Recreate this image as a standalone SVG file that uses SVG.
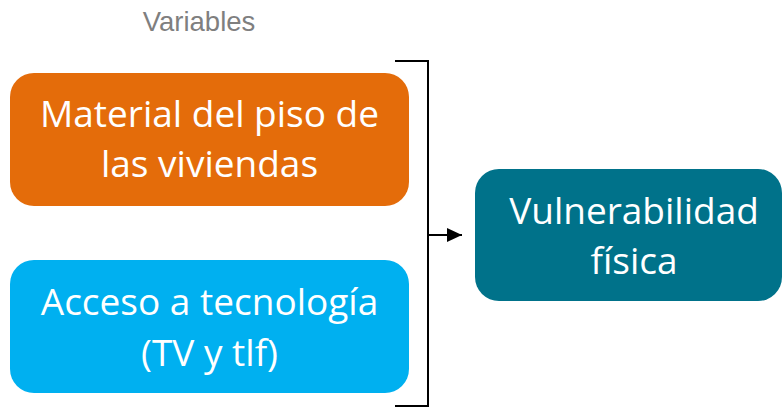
<svg xmlns="http://www.w3.org/2000/svg" width="783" height="409" viewBox="0 0 783 409">
<style>
.lbl{font-family:"Open Sans","Noto Sans",sans-serif;font-size:37px;fill:#ffffff;text-anchor:middle}
.title{font-family:"Liberation Sans",Arial,sans-serif;font-size:27.5px;fill:#7f7f7f;text-anchor:middle}
.conn{fill:none;stroke:#000000;stroke-width:2}
</style>
<defs>
<marker id="ah" viewBox="0 0 15 14" refX="15" refY="7" markerWidth="15" markerHeight="14" markerUnits="userSpaceOnUse" orient="auto">
<path d="M0,0 L15,7 L0,14 z" fill="#000000"/>
</marker>
</defs>
<rect width="783" height="409" fill="#ffffff"/>
<text class="title" x="199" y="31">Variables</text>
<g id="node-material">
<rect x="10" y="73" width="399" height="133" rx="24" fill="#E46C0A"/>
<text class="lbl" x="209.5" y="127">Material del piso de</text>
<text class="lbl" x="209.5" y="177">las viviendas</text>
</g>
<g id="node-acceso">
<rect x="10" y="260" width="399" height="133" rx="24" fill="#00B0F0"/>
<text class="lbl" x="209.5" y="315">Acceso a tecnología</text>
<text class="lbl" x="209.5" y="366">(TV y tlf)</text>
</g>
<g id="node-vulnerabilidad">
<rect x="475" y="169" width="307" height="132" rx="24" fill="#00728A"/>
<text class="lbl" x="634" y="224">Vulnerabilidad</text>
<text class="lbl" x="634" y="274">física</text>
</g>
<g id="connectors">
<path class="conn" d="M395,61 H428 V406 H395"/>
<path class="conn" d="M428,235 H462" marker-end="url(#ah)"/>
</g>
</svg>
